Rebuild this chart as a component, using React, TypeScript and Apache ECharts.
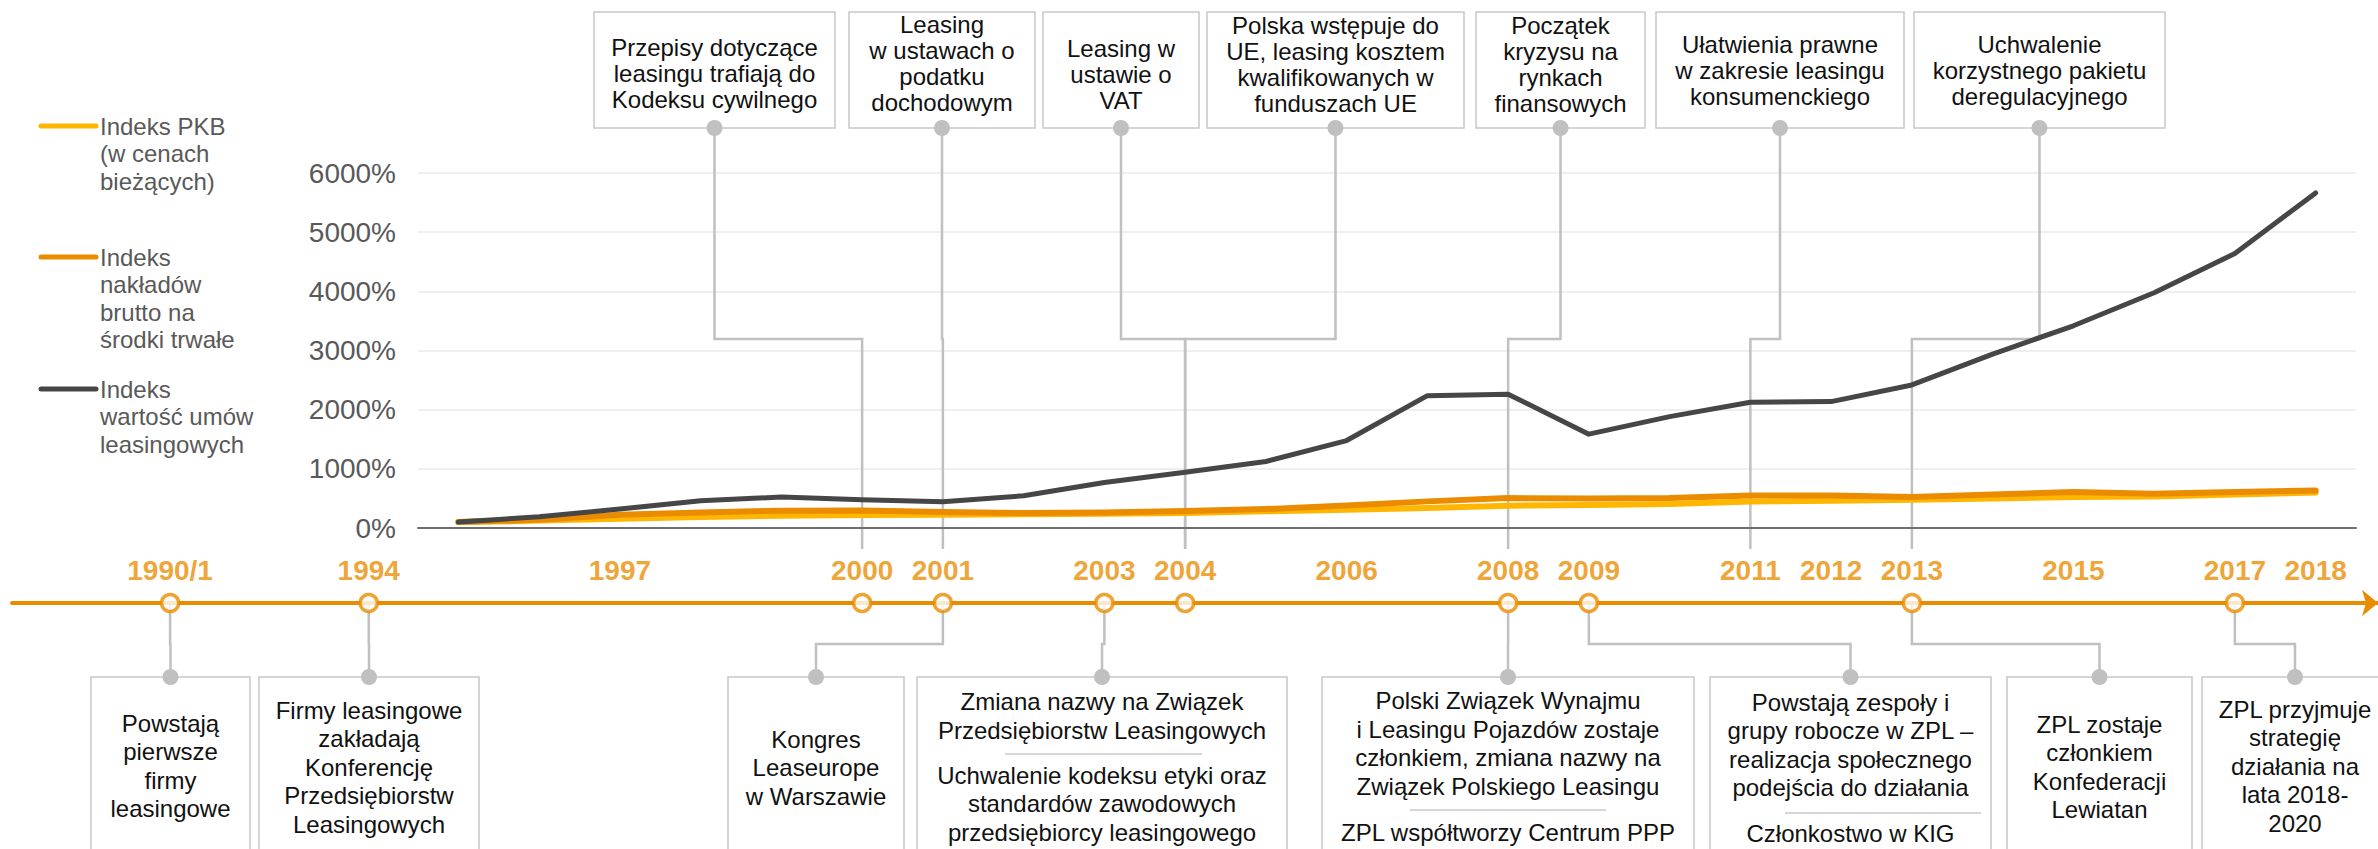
import React, { useEffect, useRef } from "react";
import * as echarts from "echarts";

// ---------- DATA ----------
const YEARS = [
  "1995", "1996", "1997", "1998", "1999", "2000", "2001", "2002", "2003", "2004", "2005", "2006",
  "2007", "2008", "2009", "2010", "2011", "2012", "2013", "2014", "2015", "2016", "2017", "2018",
];
const SERIES_NAMES = [
  "Indeks PKB (w cenach bieżących)",
  "Indeks nakładów brutto na środki trwałe",
  "Indeks wartość umów leasingowych",
];
const LEGEND_LABELS = [
  "Indeks PKB\n(w cenach\nbieżących)",
  "Indeks\nnakładów\nbrutto na\nśrodki trwałe",
  "Indeks\nwartość umów\nleasingowych",
];
const PKB = [100, 125, 157, 185, 208, 219, 225, 232, 240, 253, 281, 309, 340, 376, 390, 405, 449, 460, 477, 500, 523, 534, 565, 601];
const NAKLADY = [100, 140, 224, 264, 292, 297, 270, 253, 264, 287, 320, 382, 450, 506, 500, 506, 550, 550, 523, 565, 607, 579, 607, 635];
const LEASING = [100, 190, 320, 460, 523, 477, 444, 545, 770, 944, 1124, 1478, 2237, 2261, 1586, 1883, 2126, 2136, 2418, 2940, 3418, 3976, 4640, 5662];
const Y_MAX = 6000;
const Y_STEP = 1000;

const TIMELINE_LABELS = ["1990/1", "1994", "1997", "2000", "2001", "2003", "2004", "2006", "2008", "2009", "2011", "2012", "2013", "2015", "2017", "2018"];
const TIMELINE_POS = [1991.43, 1993.89, 1997, 2000, 2001, 2003, 2004, 2006, 2008, 2009, 2011, 2012, 2013, 2015, 2017, 2018];
const TIMELINE_MARKED = ["1990/1", "1994", "2000", "2001", "2003", "2004", "2008", "2009", "2013", "2017"];

const TOP_TEXTS = [
  "Przepisy dotyczące\nleasingu trafiają do\nKodeksu cywilnego",
  "Leasing\nw ustawach o\npodatku\ndochodowym",
  "Leasing w\nustawie o\nVAT",
  "Polska wstępuje do\nUE, leasing kosztem\nkwalifikowanych w\nfunduszach UE",
  "Początek\nkryzysu na\nrynkach\nfinansowych",
  "Ułatwienia prawne\nw zakresie leasingu\nkonsumenckiego",
  "Uchwalenie\nkorzystnego pakietu\nderegulacyjnego",
];
const TOP_AT = ["2000", "2001", "2004", "2004", "2008", "2011", "2013"];

const BOTTOM_TEXTS = [
  ["Powstają\npierwsze\nfirmy\nleasingowe"],
  ["Firmy leasingowe\nzakładają\nKonferencję\nPrzedsiębiorstw\nLeasingowych"],
  ["Kongres\nLeaseurope\nw Warszawie"],
  ["Zmiana nazwy na Związek\nPrzedsiębiorstw Leasingowych", "Uchwalenie kodeksu etyki oraz\nstandardów zawodowych\nprzedsiębiorcy leasingowego"],
  ["Polski Związek Wynajmu\ni Leasingu Pojazdów zostaje\nczłonkiem, zmiana nazwy na\nZwiązek Polskiego Leasingu", "ZPL współtworzy Centrum PPP"],
  ["Powstają zespoły i\ngrupy robocze w ZPL –\nrealizacja społecznego\npodejścia do działania", "Członkostwo w KIG"],
  ["ZPL zostaje\nczłonkiem\nKonfederacji\nLewiatan"],
  ["ZPL przyjmuje\nstrategię\ndziałania na\nlata 2018-\n2020"],
];
const BOTTOM_AT = ["1990/1", "1994", "2001", "2003", "2008", "2009", "2013", "2017"];

// ---------- LAYOUT ----------
const W = 2378;
const H = 849;
const FONT = '"Liberation Sans", Arial, Helvetica, sans-serif';
const GRID_LEFT = 418;
const GRID_RIGHT = 22;
const GRID_TOP = 173;
const GRID_BOTTOM = 321;
const TL_LEFT = 12;
const TL_Y = 603;

const ORANGE = "#EB8C00";
const YELLOW = "#FFB600";
const DARK = "#464646";
const CONNECT = "#C0C0C0";
const BOX_STROKE = "#C8C8C8";
const TEXT = "#111111";
const GREY_TEXT = "#595959";

const TOP_BOX_X = [[594, 835], [849, 1035], [1043, 1199], [1207, 1464], [1476, 1645], [1656, 1904], [1914, 2165]];
const TOP_BOX_Y = [12, 128];
const TOP_TEXT_CY = [73, 63, 74, 64, 64, 70, 70];
const TOP_ELBOW_Y = 339;
const TOP_LINE_BELOW_AXIS = 21;

const BOTTOM_BOX_X = [[91, 250], [259, 479], [728, 904], [917, 1287], [1322, 1694], [1710, 1991], [2007, 2192], [2202, 2388]];
const BOTTOM_BOX_TOP = 677;
const BOTTOM_ELBOW_Y = 644;
const BOTTOM_PART_CY = [[766], [767], [767.5], [716, 803.5], [743.5, 832], [745, 833.5], [767], [766]];
const BOTTOM_SEPS: Record<number, [number, number, number]> = {
  3: [754, 1005, 1202],
  4: [810, 1410, 1606],
  5: [813, 1785, 1981],
};

const LEGEND_X = [41, 96];
const LEGEND_Y = [126, 257, 389];
const LEGEND_COLORS = [YELLOW, ORANGE, DARK];

export default function App() {
  const ref = useRef<HTMLDivElement>(null);

  useEffect(() => {
    if (!ref.current) return;
    const chart = echarts.init(ref.current, null, { renderer: "svg" });
    const band = (W - GRID_LEFT - GRID_RIGHT) / YEARS.length;
    const first = Number(YEARS[0]) - 0.5;
    const last = Number(YEARS[YEARS.length - 1]) + 0.5;
    const tlMin = first - (GRID_LEFT - TL_LEFT) / band;
    const tlMax = last + GRID_RIGHT / band;

    const posOf = (label: string) => TIMELINE_POS[TIMELINE_LABELS.indexOf(label)];

    chart.setOption({
      animation: false,
      backgroundColor: "#ffffff",
      textStyle: { fontFamily: FONT },
      grid: [
        { left: GRID_LEFT, right: GRID_RIGHT, top: GRID_TOP, bottom: GRID_BOTTOM },
        { left: TL_LEFT, right: 0, top: TL_Y - 40, height: 40 },
      ],
      xAxis: [
        {
          type: "category",
          gridIndex: 0,
          data: YEARS,
          boundaryGap: true,
          axisLine: { lineStyle: { color: "#6F6F6F", width: 2 } },
          axisTick: { show: false },
          axisLabel: { show: false },
        },
        {
          type: "value",
          gridIndex: 1,
          min: tlMin,
          max: tlMax,
          axisLine: {
            show: true,
            lineStyle: { color: ORANGE, width: 4 },
            symbol: ["none", "arrow"],
            symbolSize: [20, 16],
          },
          axisTick: { show: false },
          axisLabel: { show: false },
          splitLine: { show: false },
        },
      ],
      yAxis: [
        {
          type: "value",
          gridIndex: 0,
          min: 0,
          max: Y_MAX,
          interval: Y_STEP,
          axisLine: { show: false },
          axisTick: { show: false },
          splitLine: { lineStyle: { color: "#EFEFEF", width: 2 } },
          axisLabel: {
            formatter: (v: number) => `${v}%`,
            fontSize: 28,
            color: GREY_TEXT,
            margin: 22,
            fontFamily: FONT,
          },
        },
        { type: "value", gridIndex: 1, min: 0, max: 1, show: false },
      ],
      series: [
        {
          name: SERIES_NAMES[0],
          type: "line",
          data: PKB,
          symbol: "none",
          lineStyle: { color: YELLOW, width: 6, cap: "round", join: "round" },
          z: 3,
        },
        {
          name: SERIES_NAMES[1],
          type: "line",
          data: NAKLADY,
          symbol: "none",
          lineStyle: { color: ORANGE, width: 6, cap: "round", join: "round" },
          z: 4,
        },
        {
          name: SERIES_NAMES[2],
          type: "line",
          data: LEASING,
          symbol: "none",
          lineStyle: { color: DARK, width: 5, cap: "round", join: "round" },
          z: 5,
        },
        {
          type: "scatter",
          xAxisIndex: 1,
          yAxisIndex: 1,
          silent: true,
          clip: false,
          symbolSize: 1,
          itemStyle: { color: "rgba(0,0,0,0)" },
          data: TIMELINE_LABELS.map((l, i) => ({ name: l, value: [TIMELINE_POS[i], 0] })),
          label: {
            show: true,
            formatter: "{b}",
            position: "inside",
            offset: [0, -33],
            fontSize: 28,
            fontWeight: "bold",
            color: ORANGE,
            fontFamily: FONT,
          },
          z: 5,
        },
        {
          type: "scatter",
          xAxisIndex: 1,
          yAxisIndex: 1,
          silent: true,
          clip: false,
          symbol: "circle",
          symbolSize: 17,
          itemStyle: { color: "#ffffff", borderColor: ORANGE, borderWidth: 3.5 },
          data: TIMELINE_MARKED.map((l) => ({ name: l, value: [posOf(l), 0] })),
          z: 6,
        },
      ],
    });

    const px = (v: number) => chart.convertToPixel({ xAxisIndex: 1 }, v) as number;
    const tlY = chart.convertToPixel({ yAxisIndex: 1 }, 0) as number;
    const axisY = chart.convertToPixel({ yAxisIndex: 0 }, 0) as number;

    const rects: any[] = [];
    const lines: any[] = [];
    const dots: any[] = [];
    const texts: any[] = [];

    // legend
    LEGEND_LABELS.forEach((lab, i) => {
      lines.push({
        type: "line",
        shape: { x1: LEGEND_X[0], y1: LEGEND_Y[i], x2: LEGEND_X[1], y2: LEGEND_Y[i] },
        style: { stroke: LEGEND_COLORS[i], lineWidth: 5, lineCap: "round" },
      });
      texts.push({
        type: "text",
        x: LEGEND_X[1] + 4,
        y: LEGEND_Y[i] - 13.75,
        style: {
          text: lab,
          fill: GREY_TEXT,
          fontSize: 24,
          fontFamily: FONT,
          lineHeight: 27.5,
          align: "left",
          verticalAlign: "top",
        },
      });
    });

    // top callouts
    TOP_TEXTS.forEach((t, i) => {
      const [x0, x1] = TOP_BOX_X[i];
      const bx = (x0 + x1) / 2;
      const yx = px(posOf(TOP_AT[i]));
      rects.push({
        type: "rect",
        shape: { x: x0, y: TOP_BOX_Y[0], width: x1 - x0, height: TOP_BOX_Y[1] - TOP_BOX_Y[0] },
        style: { fill: "#ffffff", stroke: BOX_STROKE, lineWidth: 1.5 },
      });
      lines.push({
        type: "polyline",
        shape: {
          points: [
            [bx, TOP_BOX_Y[1]],
            [bx, TOP_ELBOW_Y],
            [yx, TOP_ELBOW_Y],
            [yx, axisY + TOP_LINE_BELOW_AXIS],
          ],
        },
        style: { stroke: CONNECT, lineWidth: 2.5, fill: "none" },
      });
      dots.push({
        type: "circle",
        shape: { cx: bx, cy: TOP_BOX_Y[1], r: 8 },
        style: { fill: CONNECT },
      });
      texts.push({
        type: "text",
        x: bx,
        y: TOP_TEXT_CY[i],
        style: {
          text: t,
          fill: TEXT,
          fontSize: 24,
          fontFamily: FONT,
          lineHeight: 26,
          align: "center",
          verticalAlign: "middle",
        },
      });
    });

    // bottom callouts
    BOTTOM_TEXTS.forEach((parts, i) => {
      const [x0, x1] = BOTTOM_BOX_X[i];
      const bx = (x0 + x1) / 2;
      const yx = px(posOf(BOTTOM_AT[i]));
      rects.push({
        type: "rect",
        shape: { x: x0, y: BOTTOM_BOX_TOP, width: x1 - x0, height: H + 20 - BOTTOM_BOX_TOP },
        style: { fill: "#ffffff", stroke: BOX_STROKE, lineWidth: 1.5 },
      });
      lines.push({
        type: "polyline",
        shape: {
          points: [
            [yx, tlY],
            [yx, BOTTOM_ELBOW_Y],
            [bx, BOTTOM_ELBOW_Y],
            [bx, BOTTOM_BOX_TOP],
          ],
        },
        style: { stroke: CONNECT, lineWidth: 2.5, fill: "none" },
      });
      dots.push({
        type: "circle",
        shape: { cx: bx, cy: BOTTOM_BOX_TOP, r: 8 },
        style: { fill: CONNECT },
      });
      parts.forEach((p, j) => {
        texts.push({
          type: "text",
          x: bx,
          y: BOTTOM_PART_CY[i][j],
          style: {
            text: p,
            fill: TEXT,
            fontSize: 24,
            fontFamily: FONT,
            lineHeight: 28.5,
            align: "center",
            verticalAlign: "middle",
          },
        });
      });
      const sep = BOTTOM_SEPS[i];
      if (sep) {
        lines.push({
          type: "line",
          shape: { x1: sep[1], y1: sep[0], x2: sep[2], y2: sep[0] },
          style: { stroke: BOX_STROKE, lineWidth: 1.5 },
        });
      }
    });

    chart.setOption({
      graphic: [...rects, ...lines, ...dots, ...texts].map((e) => ({ ...e, silent: true })),
    });

    return () => chart.dispose();
  }, []);

  return (
    <div
      ref={ref}
      style={{ position: "absolute", left: 0, top: 0, width: W, height: H, background: "#fff" }}
    />
  );
}
